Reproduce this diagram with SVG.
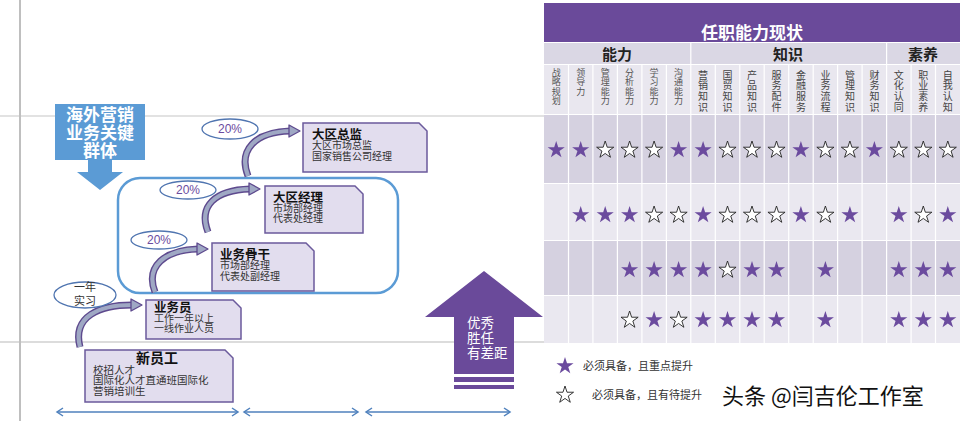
<svg xmlns="http://www.w3.org/2000/svg" xmlns:xlink="http://www.w3.org/1999/xlink" width="960" height="421" viewBox="0 0 960 421">
<style>
.cjk{font-family:"Noto Sans CJK SC","Noto Sans",sans-serif}
.lat{font-family:"Liberation Sans",Arial,sans-serif}
.box{fill:#E2DDEE;stroke:#6B5A9C;stroke-width:1.5}
.bt{font-size:12.5px;font-weight:bold;fill:#111}
.bs{font-size:10px;fill:#333}
.ell{fill:#fff;stroke:#5075B0;stroke-width:1.3}
.pct{font-size:12px;fill:#6B4B9E}
.arrO{fill:none;stroke:#5E4A8E;stroke-width:7;stroke-linecap:butt}
.arrI{fill:none;stroke:#9FA8C4;stroke-width:4.2;stroke-linecap:butt}
.head{fill:#9FA8C4;stroke:#5E4A8E;stroke-width:1.3;stroke-linejoin:round}
.tl{fill:none;stroke:#4F81BD;stroke-width:1.5}
.f{fill:#6B4B9E}
.o{fill:#fff;stroke:#222;stroke-width:0.9}
.sep{stroke:#fff;stroke-width:1.2}
.h1{font-size:9px;fill:#555}
.h2{font-size:10px;fill:#444}
.cat{font-size:15px;font-weight:bold;fill:#222}
</style>
<defs>
<path id="star" d="M0,-9 L2.02,-2.78 L8.56,-2.78 L3.27,1.06 L5.29,7.28 L0,3.44 L-5.29,7.28 L-3.27,1.06 L-8.56,-2.78 L-2.02,-2.78 Z"/>
</defs>
<rect width="960" height="421" fill="#fff"/>
<!-- background guide lines -->
<line x1="0" y1="116" x2="544" y2="116" stroke="#D9D9D9" stroke-width="1.5"/>
<line x1="0" y1="342" x2="544" y2="342" stroke="#D0D0D0" stroke-width="1.5"/>
<line x1="20" y1="0" x2="20" y2="421" stroke="#BFBFBF" stroke-width="2"/>

<!-- callout -->
<g id="callout">
<path d="M55,104 H145 V160 H112 V172 H123 L100,190 L77,172 H88 V160 H55 Z" fill="#5B9BD5"/>
<text class="cjk" font-size="17" font-weight="bold" fill="#fff" text-anchor="middle"><tspan x="100" y="121">海外营销</tspan><tspan x="100" y="139">业务关键</tspan><tspan x="100" y="157">群体</tspan></text>
</g>

<!-- group frame -->
<g id="frame"><rect x="118" y="178" width="280" height="115" rx="22" fill="none" stroke="#5B9BD5" stroke-width="2.5"/></g>

<!-- connectors -->
<g id="connectors">
<path class="arrO" d="M248,176 C238,150 255,132 290,131"/>
<path class="arrI" d="M248,176 C238,150 255,132 290,131"/>
<polygon class="head" points="300,131 289,125 289,137"/>
<path class="arrO" d="M208,232 C198,206 215,190 250,189"/>
<path class="arrI" d="M208,232 C198,206 215,190 250,189"/>
<polygon class="head" points="260,189 249,183 249,195"/>
<path class="arrO" d="M155,292 C145,266 165,250 198,249"/>
<path class="arrI" d="M155,292 C145,266 165,250 198,249"/>
<polygon class="head" points="208,249 197,243 197,255"/>
<path class="arrO" d="M80,347 C72,316 100,305 132,305"/>
<path class="arrI" d="M80,347 C72,316 100,305 132,305"/>
<polygon class="head" points="142,305 131,299 131,311"/>
<!-- timeline -->
<line class="tl" x1="57" y1="412" x2="238" y2="412"/>
<polyline class="tl" points="63,408 57,412 63,416"/>
<polyline class="tl" points="232,408 238,412 232,416"/>
<line class="tl" x1="244" y1="412" x2="358" y2="412"/>
<polyline class="tl" points="250,408 244,412 250,416"/>
<polyline class="tl" points="352,408 358,412 352,416"/>
<line class="tl" x1="366" y1="412" x2="510" y2="412"/>
<polyline class="tl" points="372,408 366,412 372,416"/>
<polyline class="tl" points="504,408 510,412 504,416"/>
</g>

<!-- label ellipses -->
<g id="lbl1"><ellipse class="ell" cx="230" cy="129" rx="28" ry="10"/><text class="lat pct" x="230" y="133" text-anchor="middle">20%</text></g>
<g id="lbl2"><ellipse class="ell" cx="188" cy="190" rx="28" ry="9"/><text class="lat pct" x="188" y="194" text-anchor="middle">20%</text></g>
<g id="lbl3"><ellipse class="ell" cx="159" cy="240" rx="28" ry="9"/><text class="lat pct" x="159" y="244" text-anchor="middle">20%</text></g>
<g id="lbl4"><ellipse class="ell" cx="85" cy="295" rx="31" ry="13"/><text class="cjk" font-size="11" fill="#333" text-anchor="middle"><tspan x="85" y="291">一年</tspan><tspan x="85" y="305">实习</tspan></text></g>

<!-- nodes -->
<g id="n-dqzj">
<path class="box" d="M303,123 H419 L427,131 V172 H303 Z"/>
<text class="cjk bt" x="312" y="138.5">大区总监</text>
<text class="cjk bs" x="312" y="149">大区市场总监</text>
<text class="cjk bs" x="312" y="159.5">国家销售公司经理</text>
</g>
<g id="n-dqjl">
<path class="box" d="M265,186 H355 L363,194 V233 H265 Z"/>
<text class="cjk bt" x="273" y="201.5">大区经理</text>
<text class="cjk bs" x="273" y="211.5">市场部经理</text>
<text class="cjk bs" x="273" y="222">代表处经理</text>
</g>
<g id="n-ywgg">
<path class="box" d="M212,243 H306 L314,251 V291 H212 Z"/>
<text class="cjk bt" x="220" y="258.5">业务骨干</text>
<text class="cjk bs" x="220" y="269">市场部经理</text>
<text class="cjk bs" x="220" y="279.5">代表处副经理</text>
</g>
<g id="n-ywy">
<path class="box" d="M146,300 H233 L241,308 V339 H146 Z"/>
<text class="cjk bt" x="154" y="311.5">业务员</text>
<text class="cjk bs" x="154" y="321.5">工作一年以上</text>
<text class="cjk bs" x="154" y="332">一线作业人员</text>
</g>
<g id="n-xyg">
<path class="box" d="M85,350 H225 L233,358 V402 H85 Z"/>
<text class="cjk" font-size="14" font-weight="bold" fill="#111" x="157" y="363" text-anchor="middle">新员工</text>
<text class="cjk" font-size="10.5" fill="#333" x="93" y="373.5">校招人才</text>
<text class="cjk" font-size="10.5" fill="#333" x="93" y="384">国际化人才直通班国际化</text>
<text class="cjk" font-size="10.5" fill="#333" x="93" y="394.5">营销培训生</text>
</g>

<!-- big arrow -->
<g id="bigarrow">
<path d="M484,271 L543,317 H514 V374 H454 V317 H425 Z" fill="#6A4A9A"/>
<rect x="454" y="377" width="60" height="5" fill="#6A4A9A"/>
<rect x="454" y="385" width="60" height="4" fill="#6A4A9A"/>
<text class="cjk" font-size="13.5" fill="#fff"><tspan x="467" y="328">优秀</tspan><tspan x="467" y="343">胜任</tspan><tspan x="467" y="358">有差距</tspan></text>
</g>

<!-- table -->
<g id="table">
<rect x="544" y="3" width="416" height="39" fill="#6A4A9A"/>
<text class="cjk" x="752" y="39" font-size="17" font-weight="bold" fill="#fff" text-anchor="middle">任职能力现状</text>
<rect x="544" y="43" width="416" height="21" fill="#DAD7E4"/>
<rect x="544" y="65" width="416" height="49" fill="#E9E7EF"/>
<rect x="544" y="115" width="416" height="68" fill="#D5D1E0"/>
<rect x="544" y="184" width="416" height="56" fill="#EAE8F0"/>
<rect x="544" y="241" width="416" height="54" fill="#D5D1E0"/>
<rect x="544" y="296" width="416" height="47" fill="#EAE8F0"/>
<g class="sep">
<line x1="690.8" y1="43" x2="690.8" y2="64"/><line x1="886.6" y1="43" x2="886.6" y2="64"/>
<line x1="568.5" y1="65" x2="568.5" y2="343"/><line x1="592.9" y1="65" x2="592.9" y2="343"/>
<line x1="617.4" y1="65" x2="617.4" y2="343"/><line x1="641.9" y1="65" x2="641.9" y2="343"/>
<line x1="666.4" y1="65" x2="666.4" y2="343"/><line x1="690.8" y1="65" x2="690.8" y2="343"/>
<line x1="715.3" y1="65" x2="715.3" y2="343"/><line x1="739.8" y1="65" x2="739.8" y2="343"/>
<line x1="764.2" y1="65" x2="764.2" y2="343"/><line x1="788.7" y1="65" x2="788.7" y2="343"/>
<line x1="813.2" y1="65" x2="813.2" y2="343"/><line x1="837.6" y1="65" x2="837.6" y2="343"/>
<line x1="862.1" y1="65" x2="862.1" y2="343"/><line x1="886.6" y1="65" x2="886.6" y2="343"/>
<line x1="911.1" y1="65" x2="911.1" y2="343"/><line x1="935.5" y1="65" x2="935.5" y2="343"/>
</g>
<text class="cjk cat" x="617" y="60" text-anchor="middle">能力</text>
<text class="cjk cat" x="788" y="60" text-anchor="middle">知识</text>
<text class="cjk cat" x="923" y="60" text-anchor="middle">素养</text>
<g class="cjk h1" text-anchor="middle">
<text><tspan x="556.2" y="75.5">战</tspan><tspan x="556.2" dy="9.6">略</tspan><tspan x="556.2" dy="9.6">规</tspan><tspan x="556.2" dy="9.6">划</tspan></text>
<text><tspan x="580.7" y="75.5">领</tspan><tspan x="580.7" dy="9.6">导</tspan><tspan x="580.7" dy="9.6">力</tspan></text>
<text><tspan x="605.2" y="75.5">管</tspan><tspan x="605.2" dy="9.6">理</tspan><tspan x="605.2" dy="9.6">能</tspan><tspan x="605.2" dy="9.6">力</tspan></text>
<text><tspan x="629.6" y="75.5">分</tspan><tspan x="629.6" dy="9.6">析</tspan><tspan x="629.6" dy="9.6">能</tspan><tspan x="629.6" dy="9.6">力</tspan></text>
<text><tspan x="654.1" y="75.5">学</tspan><tspan x="654.1" dy="9.6">习</tspan><tspan x="654.1" dy="9.6">能</tspan><tspan x="654.1" dy="9.6">力</tspan></text>
<text><tspan x="678.6" y="75.5">沟</tspan><tspan x="678.6" dy="9.6">通</tspan><tspan x="678.6" dy="9.6">能</tspan><tspan x="678.6" dy="9.6">力</tspan></text>
</g>
<g class="cjk h2" text-anchor="middle">
<text><tspan x="703.1" y="78.5">营</tspan><tspan x="703.1" dy="10.8">销</tspan><tspan x="703.1" dy="10.8">知</tspan><tspan x="703.1" dy="10.8">识</tspan></text>
<text><tspan x="727.5" y="78.5">国</tspan><tspan x="727.5" dy="10.8">贸</tspan><tspan x="727.5" dy="10.8">知</tspan><tspan x="727.5" dy="10.8">识</tspan></text>
<text><tspan x="752" y="78.5">产</tspan><tspan x="752" dy="10.8">品</tspan><tspan x="752" dy="10.8">知</tspan><tspan x="752" dy="10.8">识</tspan></text>
<text><tspan x="776.5" y="78.5">服</tspan><tspan x="776.5" dy="10.8">务</tspan><tspan x="776.5" dy="10.8">配</tspan><tspan x="776.5" dy="10.8">件</tspan></text>
<text><tspan x="800.9" y="78.5">金</tspan><tspan x="800.9" dy="10.8">融</tspan><tspan x="800.9" dy="10.8">服</tspan><tspan x="800.9" dy="10.8">务</tspan></text>
<text><tspan x="825.4" y="78.5">业</tspan><tspan x="825.4" dy="10.8">务</tspan><tspan x="825.4" dy="10.8">流</tspan><tspan x="825.4" dy="10.8">程</tspan></text>
<text><tspan x="849.9" y="78.5">管</tspan><tspan x="849.9" dy="10.8">理</tspan><tspan x="849.9" dy="10.8">知</tspan><tspan x="849.9" dy="10.8">识</tspan></text>
<text><tspan x="874.4" y="78.5">财</tspan><tspan x="874.4" dy="10.8">务</tspan><tspan x="874.4" dy="10.8">知</tspan><tspan x="874.4" dy="10.8">识</tspan></text>
<text><tspan x="898.8" y="78.5">文</tspan><tspan x="898.8" dy="10.8">化</tspan><tspan x="898.8" dy="10.8">认</tspan><tspan x="898.8" dy="10.8">同</tspan></text>
<text><tspan x="923.3" y="78.5">职</tspan><tspan x="923.3" dy="10.8">业</tspan><tspan x="923.3" dy="10.8">素</tspan><tspan x="923.3" dy="10.8">养</tspan></text>
<text><tspan x="947.8" y="78.5">自</tspan><tspan x="947.8" dy="10.8">我</tspan><tspan x="947.8" dy="10.8">认</tspan><tspan x="947.8" dy="10.8">知</tspan></text>
</g>
<!-- row 1 -->
<use href="#star" class="f" x="556.2" y="150"/><use href="#star" class="f" x="580.7" y="150"/>
<use href="#star" class="o" x="605.2" y="150"/><use href="#star" class="o" x="629.6" y="150"/>
<use href="#star" class="o" x="654.1" y="150"/><use href="#star" class="f" x="678.6" y="150"/>
<use href="#star" class="f" x="703.1" y="150"/><use href="#star" class="o" x="727.5" y="150"/>
<use href="#star" class="o" x="752" y="150"/><use href="#star" class="o" x="776.5" y="150"/>
<use href="#star" class="f" x="800.9" y="150"/><use href="#star" class="o" x="825.4" y="150"/>
<use href="#star" class="o" x="849.9" y="150"/><use href="#star" class="f" x="874.4" y="150"/>
<use href="#star" class="o" x="898.8" y="150"/><use href="#star" class="o" x="923.3" y="150"/>
<use href="#star" class="o" x="947.8" y="150"/>
<!-- row 2 -->
<use href="#star" class="f" x="580.7" y="215"/><use href="#star" class="f" x="605.2" y="215"/>
<use href="#star" class="f" x="629.6" y="215"/><use href="#star" class="o" x="654.1" y="215"/>
<use href="#star" class="o" x="678.6" y="215"/><use href="#star" class="f" x="703.1" y="215"/>
<use href="#star" class="o" x="727.5" y="215"/><use href="#star" class="o" x="752" y="215"/>
<use href="#star" class="o" x="776.5" y="215"/><use href="#star" class="f" x="800.9" y="215"/>
<use href="#star" class="o" x="825.4" y="215"/><use href="#star" class="f" x="849.9" y="215"/>
<use href="#star" class="f" x="898.8" y="215"/><use href="#star" class="o" x="923.3" y="215"/>
<use href="#star" class="f" x="947.8" y="215"/>
<!-- row 3 -->
<use href="#star" class="f" x="629.6" y="270"/><use href="#star" class="f" x="654.1" y="270"/>
<use href="#star" class="f" x="678.6" y="270"/><use href="#star" class="f" x="703.1" y="270"/>
<use href="#star" class="o" x="727.5" y="270"/><use href="#star" class="f" x="752" y="270"/>
<use href="#star" class="f" x="776.5" y="270"/><use href="#star" class="f" x="825.4" y="270"/>
<use href="#star" class="f" x="898.8" y="270"/><use href="#star" class="f" x="923.3" y="270"/>
<use href="#star" class="f" x="947.8" y="270"/>
<!-- row 4 -->
<use href="#star" class="o" x="629.6" y="320"/><use href="#star" class="f" x="654.1" y="320"/>
<use href="#star" class="o" x="678.6" y="320"/><use href="#star" class="f" x="703.1" y="320"/>
<use href="#star" class="f" x="727.5" y="320"/><use href="#star" class="f" x="752" y="320"/>
<use href="#star" class="f" x="776.5" y="320"/><use href="#star" class="f" x="825.4" y="320"/>
<use href="#star" class="f" x="898.8" y="320"/><use href="#star" class="f" x="923.3" y="320"/>
<use href="#star" class="f" x="947.8" y="320"/>
</g>

<!-- legend -->
<g id="legend">
<use href="#star" class="f" x="565" y="366"/>
<text class="cjk" x="583" y="370" font-size="11" fill="#333">必须具备，且重点提升</text>
<use href="#star" class="o" x="565" y="395"/>
<text class="cjk" x="592" y="399" font-size="11" fill="#333">必须具备，且有待提升</text>
</g>
<text class="cjk" x="722" y="404" font-size="22" fill="#111" stroke="#fff" stroke-width="3" paint-order="stroke" stroke-linejoin="round">头条 @闫吉伦工作室</text>
</svg>
